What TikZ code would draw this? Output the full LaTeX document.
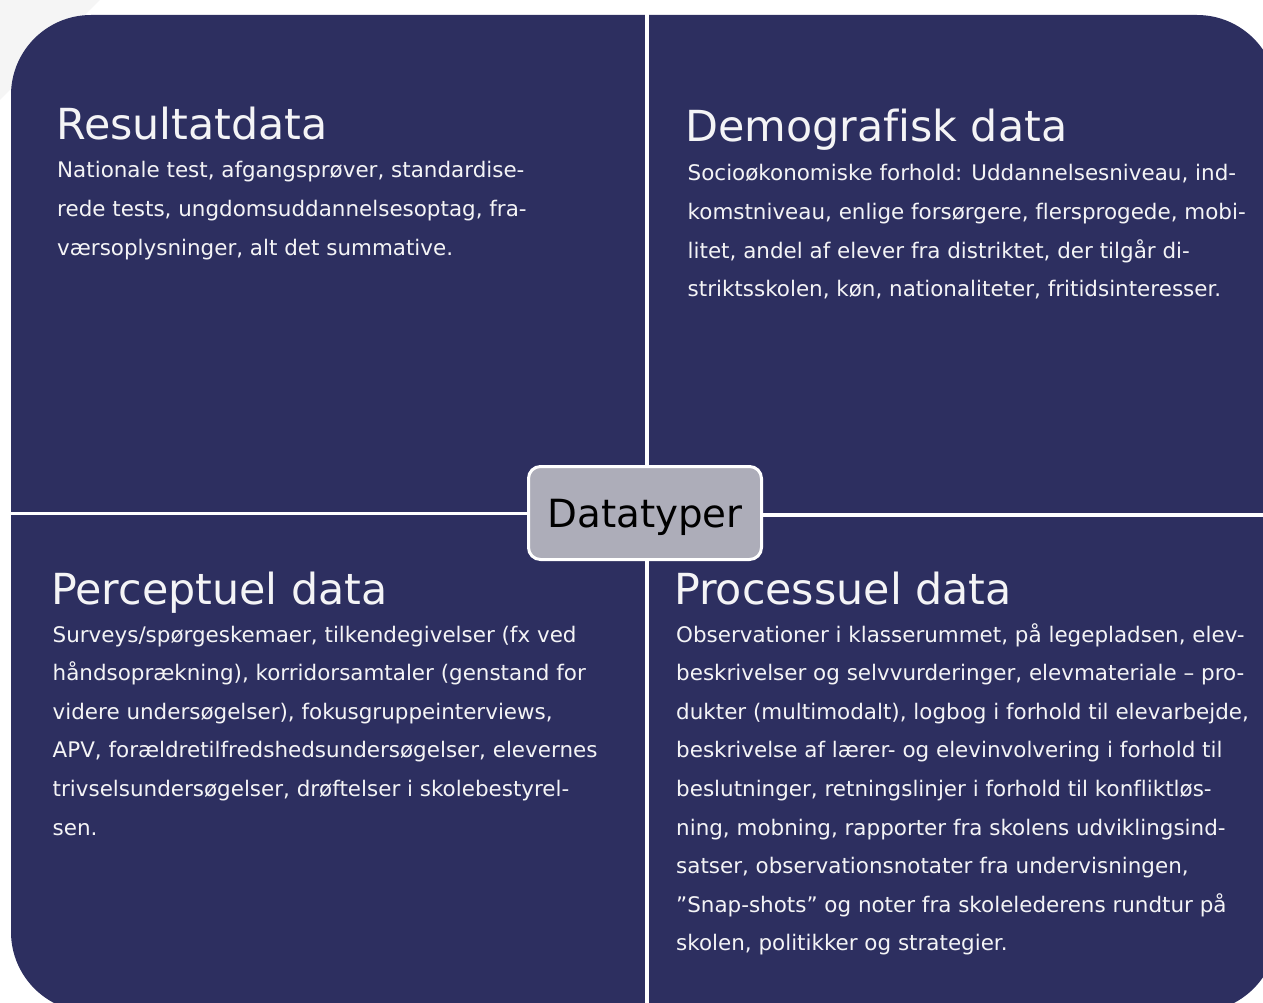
\documentclass[tikz,border=0pt]{standalone}
\usepackage{fontspec}
\setmainfont{DejaVu Sans}[RawFeature=-liga]
\definecolor{navy}{RGB}{45,47,96}
\definecolor{hubgray}{RGB}{173,173,185}
\definecolor{paper}{RGB}{245,245,245}
\definecolor{textwhite}{RGB}{244,244,246}
\newcommand{\linesblock}[1]{\begin{tabular}[t]{@{}l@{}}#1\end{tabular}}
\begin{document}
\begin{tikzpicture}[x=1pt,y=-1pt,
  sep/.style={draw=white, line width=3.5pt},
  hub/.style={draw=white, line width=3pt, fill=hubgray, rounded corners=12pt,
    minimum width=233pt, minimum height=93pt, inner sep=0pt,
    text height=28pt, text depth=0pt, text=black,
    font=\fontsize{38.8}{38.8}\selectfont},
  heading/.style={anchor=base west, inner sep=0pt, text=textwhite,
    font=\fontsize{42.8}{42.8}\selectfont},
  body/.style={anchor=base west, inner sep=0pt, text=textwhite,
    font=\fontsize{21.45}{38.6}\selectfont}]
\useasboundingbox (0,0) rectangle (1263,1003);
\clip (0,0) rectangle (1263,1003);
% pale corner of the page
\fill[paper] (0,0) -- (100,0) -- (0,100) -- cycle;
% the rounded panel behind the four fields
\fill[navy, rounded corners=80pt] (11,15) rectangle (1277,1012);

% centre label and the white dividers running out from it
\node[hub] (hub) at (645,513) {Datatyper};
\coordinate (topedge) at (647,5);
\coordinate (botedge) at (647,1010);
\coordinate (leftedge) at (0,513.5);
\coordinate (rightedge) at (1270,515);
\draw[sep] (topedge) -- (topedge |- hub.north);
\draw[sep] (botedge) -- (botedge |- hub.south);
\draw[sep] (leftedge) -- (leftedge -| hub.west);
\draw[sep] (rightedge) -- (rightedge -| hub.east);

% top left
\node[heading] (resh) at (56,140) {Resultatdata};
\node[body] (resb) at (57,178) {\linesblock{%
Nationale test, afgangsprøver, standardise-\\
rede tests, ungdomsuddannelsesoptag, fra-\\
værsoplysninger, alt det summative.}};

% top right
\node[heading] (demh) at (685,142) {Demografisk data};
\node[body] (demb) at (687.5,181) {\linesblock{%
Socioøkonomiske forhold: Uddannelsesniveau, ind-\\
komstniveau, enlige forsørgere, flersprogede, mobi-\\
litet, andel af elever fra distriktet, der tilgår di-\\
striktsskolen, køn, nationaliteter, fritidsinteresser.}};

% bottom left
\node[heading] (perh) at (51,604) {Perceptuel data};
\node[body] (perb) at (52.5,642) {\linesblock{%
Surveys/spørgeskemaer, tilkendegivelser (fx ved\\
håndsoprækning), korridorsamtaler (genstand for\\
videre undersøgelser), fokusgruppeinterviews,\\
APV, forældretilfredshedsundersøgelser, elevernes\\
trivselsundersøgelser, drøftelser i skolebestyrel-\\
sen.}};

% bottom right
\node[heading] (proh) at (674,604) {Processuel data};
\node[body] (prob) at (676,642) {\linesblock{%
Observationer i klasserummet, på legepladsen, elev-\\
beskrivelser og selvvurderinger, elevmateriale – pro-\\
dukter (multimodalt), logbog i forhold til elevarbejde,\\
beskrivelse af lærer- og elevinvolvering i forhold til\\
beslutninger, retningslinjer i forhold til konfliktløs-\\
ning, mobning, rapporter fra skolens udviklingsind-\\
satser, observationsnotater fra undervisningen,\\
”Snap-shots” og noter fra skolelederens rundtur på\\
skolen, politikker og strategier.}};
\end{tikzpicture}
\end{document}
